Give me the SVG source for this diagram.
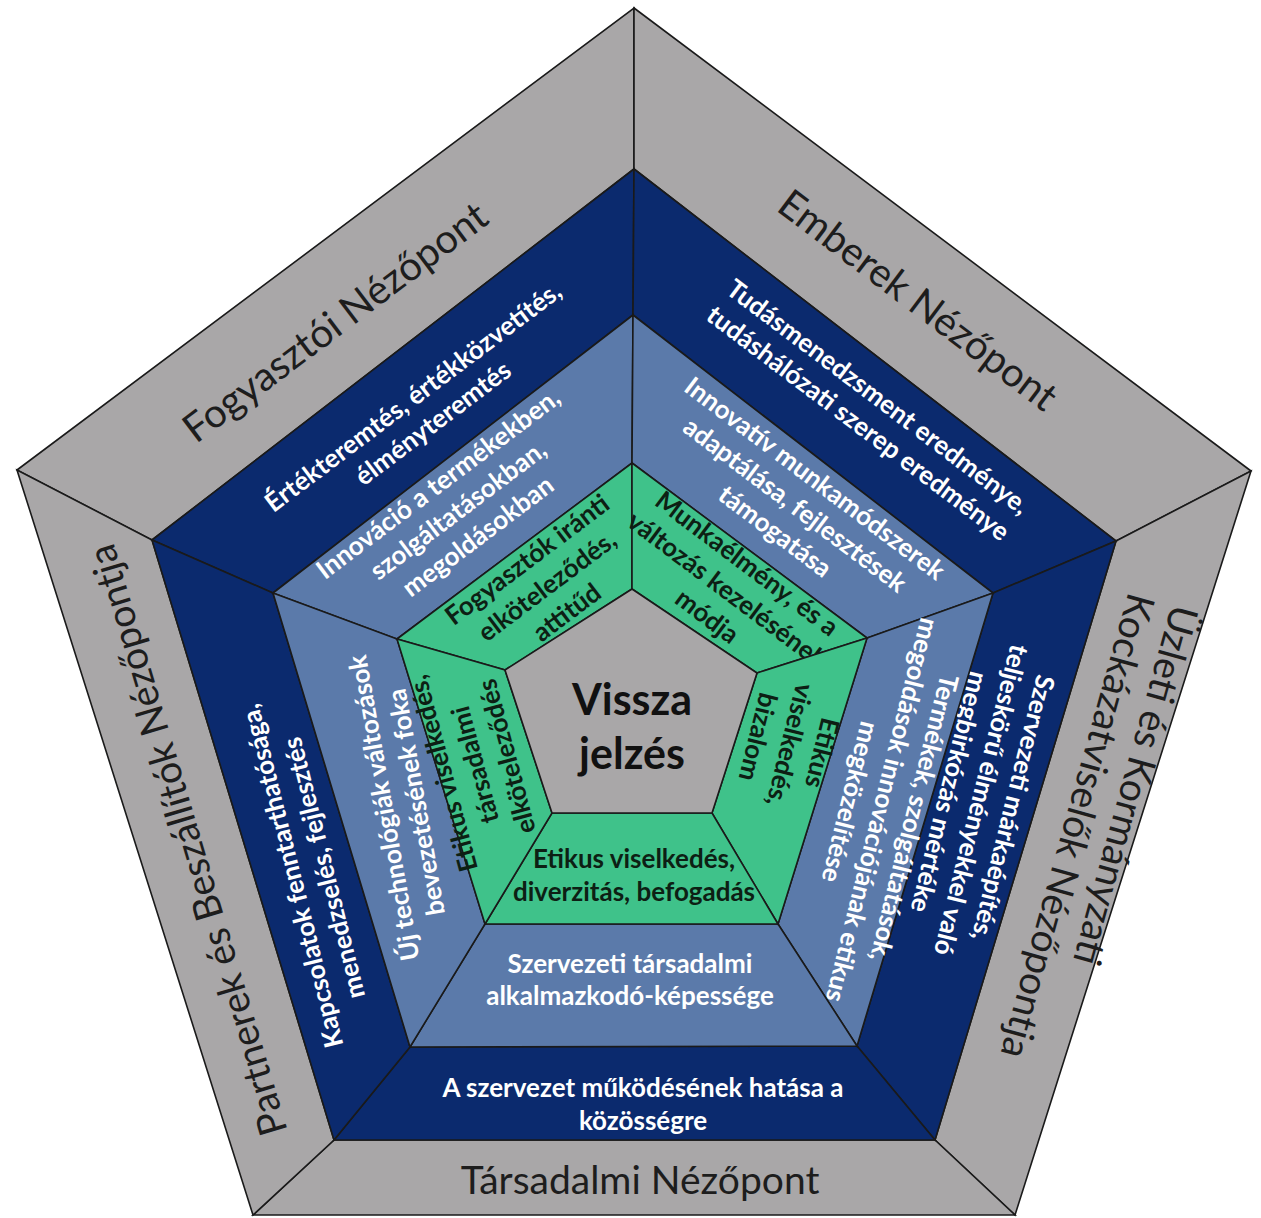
<svg xmlns="http://www.w3.org/2000/svg" width="1261" height="1218" viewBox="0 0 1261 1218">
<style>
polygon{stroke:#1a1a1a;stroke-width:1.6;stroke-linejoin:miter}
.gray{fill:#a9a7a8}
.dark{fill:#0b2a6e}
.mid{fill:#5b7aaa}
.green{fill:#3fc28a}
.ctr{fill:#a9a7a8}
text{font-family:Lato,"Open Sans","Liberation Sans",sans-serif}
.lbl{font-size:40px;fill:#1d1d1d}
.w{font-size:26px;font-weight:bold;fill:#ffffff}
.g{font-size:26px;font-weight:bold;fill:#0d1f14}
.c{font-size:43px;font-weight:bold;fill:#111111}
</style>
<rect width="1261" height="1218" fill="#ffffff"/>

<!-- Outer ring (gray) -->
<g id="outer-fogyasztoi">
<polygon class="gray" points="17,470 634,8 634,169 152,540"/>
<text class="lbl" text-anchor="middle" transform="translate(335,322) rotate(-37)"><tspan x="0" y="14">Fogyasztói Nézőpont</tspan></text>
</g>
<g id="outer-emberek">
<polygon class="gray" points="634,8 1251,471 1116,541 634,169"/>
<text class="lbl" text-anchor="middle" transform="translate(918,300) rotate(37)"><tspan x="0" y="14">Emberek Nézőpont</tspan></text>
</g>
<g id="outer-uzleti">
<polygon class="gray" points="1251,471 1015,1215 935,1140 1116,541"/>
<text class="lbl" style="font-size:39px" transform="translate(1172,603) rotate(105.5)"><tspan x="0" y="0">Üzleti és Kormányzati</tspan><tspan x="0" y="45">Kockázatviselők Nézőpontja</tspan></text>
</g>
<g id="outer-tarsadalmi">
<polygon class="gray" points="1015,1215 253,1215 334,1140 935,1140"/>
<text class="lbl" style="font-size:39px" text-anchor="middle" x="640" y="1194">Társadalmi Nézőpont</text>
</g>
<g id="outer-partnerek">
<polygon class="gray" points="253,1215 17,470 152,540 334,1140"/>
<text class="lbl" style="font-size:39px" text-anchor="middle" transform="translate(188,840) rotate(-106.5)"><tspan x="0" y="13">Partnerek és Beszállítók Nézőpontja</tspan></text>
</g>

<!-- Dark blue ring -->
<g id="dark-ertekteremtes">
<polygon class="dark" points="152,540 634,169 633,315 273,593"/>
<text class="w" text-anchor="middle" transform="translate(423,410) rotate(-37)"><tspan x="0" y="-7.5">Értékteremtés, értékközvetítés,</tspan><tspan x="0" y="25.5">élményteremtés</tspan></text>
</g>
<g id="dark-tudasmenedzsment">
<polygon class="dark" points="634,169 1116,541 993,593 633,315"/>
<text class="w" text-anchor="middle" transform="translate(868,410) rotate(37)"><tspan x="0" y="-7.5">Tudásmenedzsment eredménye,</tspan><tspan x="0" y="25.5">tudáshálózati szerep eredménye</tspan></text>
</g>
<g id="dark-markaepites">
<polygon class="dark" points="1116,541 935,1140 857,1046 993,593"/>
<text class="w" text-anchor="middle" transform="translate(981,800) rotate(104)"><tspan x="0" y="-24">Szervezeti márkaépítés,</tspan><tspan x="0" y="9">teljeskörű élményekkel való</tspan><tspan x="0" y="42">megbirkózás mértéke</tspan></text>
</g>
<g id="dark-kozosseg">
<polygon class="dark" points="935,1140 334,1140 410,1047 857,1046"/>
<text class="w" text-anchor="middle"><tspan x="643" y="1097">A szervezet működésének hatása a</tspan><tspan x="643" y="1130">közösségre</tspan></text>
</g>
<g id="dark-kapcsolatok">
<polygon class="dark" points="334,1140 152,540 273,593 410,1047"/>
<text class="w" text-anchor="middle" transform="translate(308,872) rotate(-104)"><tspan x="0" y="-7.5">Kapcsolatok fenntarthatósága,</tspan><tspan x="0" y="25.5">menedzselés, fejlesztés</tspan></text>
</g>

<!-- Medium blue ring -->
<g id="mid-innovacio">
<polygon class="mid" points="273,593 633,315 632,463 397,639"/>
<text class="w" text-anchor="middle" transform="translate(458,510) rotate(-37)"><tspan x="0" y="-24">Innováció a termékekben,</tspan><tspan x="0" y="9">szolgáltatásokban,</tspan><tspan x="0" y="42">megoldásokban</tspan></text>
</g>
<g id="mid-munkamodszerek">
<polygon class="mid" points="633,315 993,593 867,638 632,463"/>
<text class="w" text-anchor="middle" transform="translate(795,505) rotate(37)"><tspan x="0" y="-24">Innovatív munkamódszerek</tspan><tspan x="0" y="9">adaptálása, fejlesztések</tspan><tspan x="0" y="42">támogatása</tspan></text>
</g>
<g id="mid-termekek">
<polygon class="mid" points="993,593 857,1046 778,924 867,638"/>
<text class="w" text-anchor="middle" transform="translate(882,810) rotate(104)"><tspan x="0" y="-24">Termékek, szolgáltatások,</tspan><tspan x="0" y="9">megoldások innovációjának etikus</tspan><tspan x="0" y="42">megközelítése</tspan></text>
</g>
<g id="mid-alkalmazkodo">
<polygon class="mid" points="857,1046 410,1047 485,924 778,924"/>
<text class="w" text-anchor="middle"><tspan x="630" y="973">Szervezeti társadalmi</tspan><tspan x="630" y="1005">alkalmazkodó-képessége</tspan></text>
</g>
<g id="mid-technologia">
<polygon class="mid" points="410,1047 273,593 397,639 485,924"/>
<text class="w" text-anchor="middle" transform="translate(400,805) rotate(-100)"><tspan x="0" y="-7.5">Új technológiák változások</tspan><tspan x="0" y="25.5">bevezetésének foka</tspan></text>
</g>

<!-- Green ring -->
<g id="green-fogyasztok">
<polygon class="green" points="397,639 632,463 632,589 505,670"/>
<text class="g" text-anchor="middle" transform="translate(547,586) rotate(-37)"><tspan x="0" y="-24">Fogyasztók iránti</tspan><tspan x="0" y="9">elköteleződés,</tspan><tspan x="0" y="42">attitűd</tspan></text>
</g>
<g id="green-munkaelmeny">
<polygon class="green" points="632,463 867,638 757,673 632,589"/>
<text class="g" text-anchor="middle" transform="translate(727,590) rotate(37)"><tspan x="0" y="-24">Munkaélmény, és a</tspan><tspan x="0" y="9">változás kezelésének</tspan><tspan x="0" y="42">módja</tspan></text>
</g>
<g id="green-bizalom">
<polygon class="green" points="867,638 778,924 712,813 757,673"/>
<text class="g" text-anchor="middle" transform="translate(790,745) rotate(104)"><tspan x="0" y="-24">Etikus</tspan><tspan x="0" y="9">viselkedés,</tspan><tspan x="0" y="42">bizalom</tspan></text>
</g>
<g id="green-diverzitas">
<polygon class="green" points="778,924 485,924 552,813 712,813"/>
<text class="g" text-anchor="middle"><tspan x="634" y="868">Etikus viselkedés,</tspan><tspan x="634" y="901">diverzitás, befogadás</tspan></text>
</g>
<g id="green-tarsadalmi">
<polygon class="green" points="485,924 397,639 505,670 552,813"/>
<text class="g" text-anchor="middle" transform="translate(475,765) rotate(-105)"><tspan x="0" y="-24">Etikus viselkedés,</tspan><tspan x="0" y="9">társadalmi</tspan><tspan x="0" y="42">elköteleződés</tspan></text>
</g>

<!-- Center -->
<g id="center-visszajelzes">
<polygon class="ctr" points="632,589 757,673 712,813 552,813 505,670"/>
<text class="c" text-anchor="middle"><tspan x="632" y="715">Vissza</tspan><tspan x="632" y="769">jelzés</tspan></text>
</g>
</svg>
